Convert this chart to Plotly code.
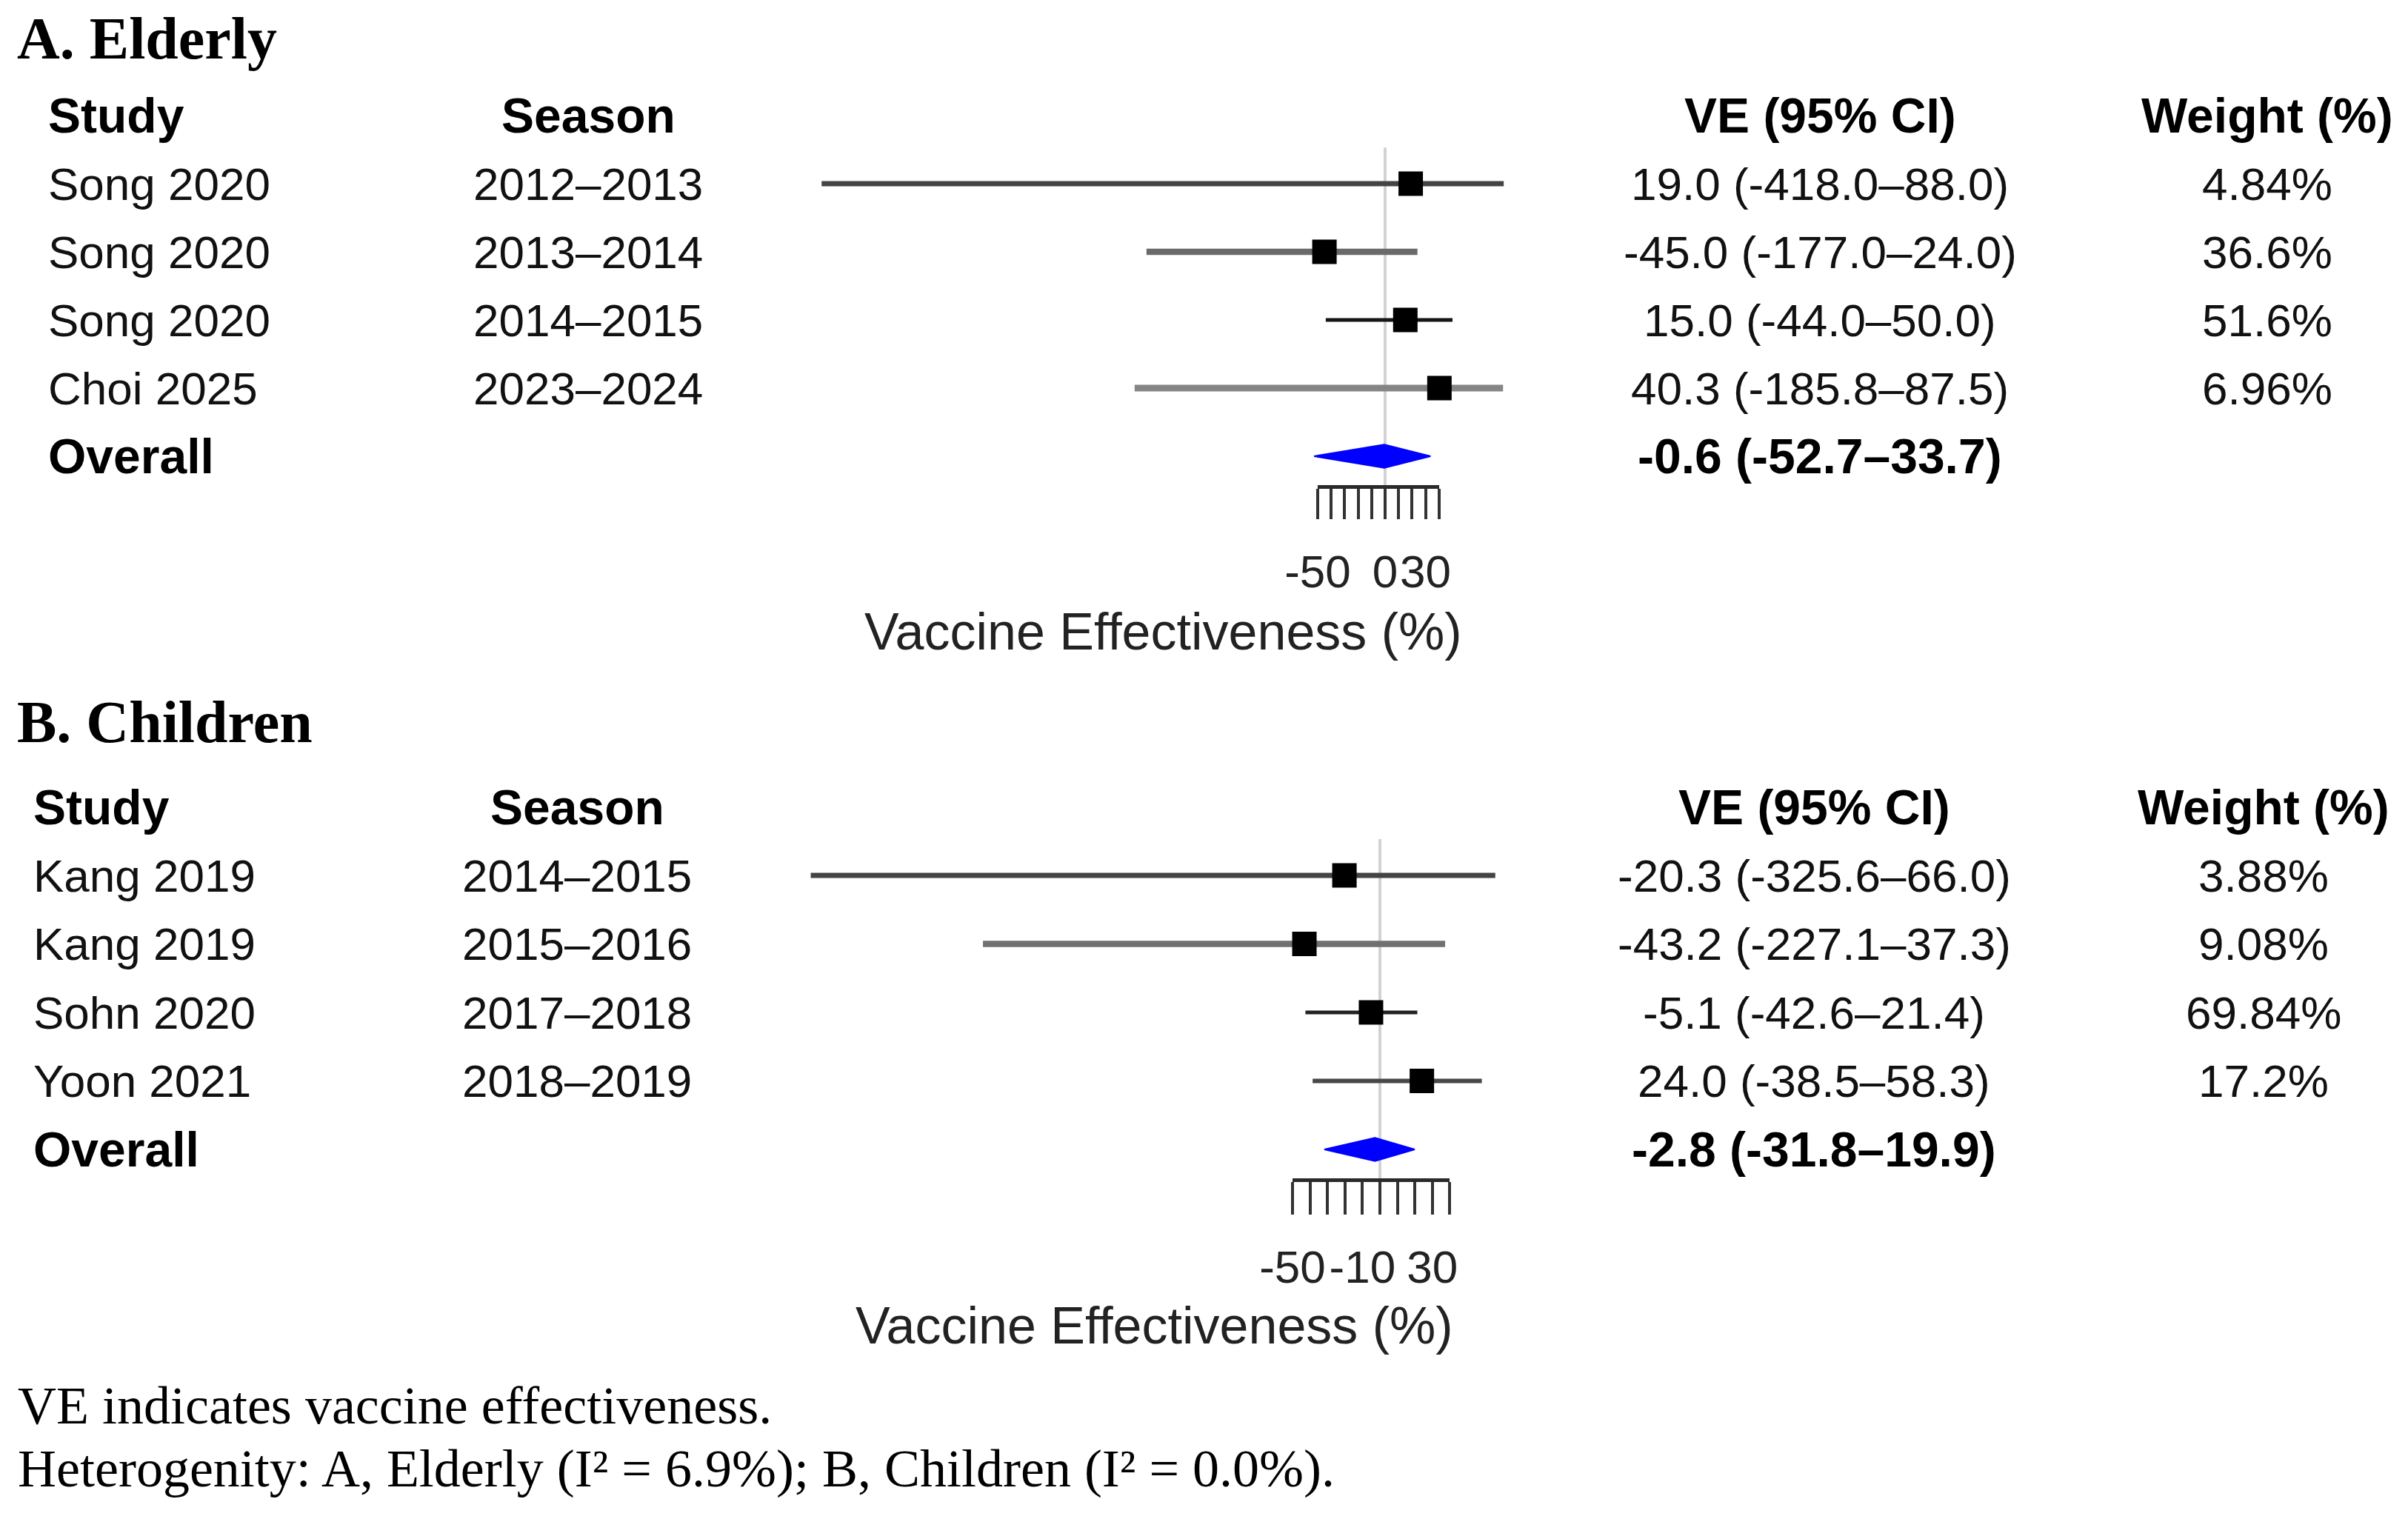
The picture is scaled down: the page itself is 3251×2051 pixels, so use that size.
import plotly.graph_objects as go

W, H = 3251, 2051

# A. Elderly
a_study = ["Song 2020", "Song 2020", "Song 2020", "Choi 2025"]
a_season = ["2012–2013", "2013–2014", "2014–2015", "2023–2024"]
a_ve = [19.0, -45.0, 15.0, 40.3]
a_lo = [-418.0, -177.0, -44.0, -185.8]
a_hi = [88.0, 24.0, 50.0, 87.5]
a_weight = [4.84, 36.6, 51.6, 6.96]
a_overall = [-0.6, -52.7, 33.7]

# B. Children
b_study = ["Kang 2019", "Kang 2019", "Sohn 2020", "Yoon 2021"]
b_season = ["2014–2015", "2015–2016", "2017–2018", "2018–2019"]
b_ve = [-20.3, -43.2, -5.1, 24.0]
b_lo = [-325.6, -227.1, -42.6, -38.5]
b_hi = [66.0, 37.3, 21.4, 58.3]
b_weight = [3.88, 9.08, 69.84, 17.2]
b_overall = [-2.8, -31.8, 19.9]

# VE axis ticks
ve_ticks = [-50, -40, -30, -20, -10, 0, 10, 20, 30, 40]
a_ticktext = ["-50", "", "", "", "", "0", "", "", "30", ""]
b_ticktext = ["-50", "", "", "", "-10", "", "", "", "30", ""]

footnotes = ["VE indicates vaccine effectiveness.",
             "Heterogenity: A, Elderly (I² = 6.9%); B, Children (I² = 0.0%)."]

SANS = "Liberation Sans, Arial, sans-serif"
SERIF = "Liberation Serif, Times New Roman, serif"
INK = "#111111"


def px_x(p):
    return p / W


def px_y(p):
    return 1 - p / H


panels = [
    dict(title="A. Elderly", study=a_study, season=a_season, ve=a_ve, lo=a_lo, hi=a_hi,
         weight=a_weight, overall=a_overall, ticktext=a_ticktext,
         top=0, bottom=1025, zero=1870, scale=1.82, row1=248, step=92,
         comb=657, ticklen=41, title_y=52, xt_x=1570, xt_y=853,
         study_x=63, season_x=794, ve_x=2457, weight_x=3061,
         ci_color=["#444444", "#6a6a6a", "#151515", "#858585"], ci_width=[7, 8.5, 5, 9]),
    dict(title="B. Children", study=b_study, season=b_season, ve=b_ve, lo=b_lo, hi=b_hi,
         weight=b_weight, overall=b_overall, ticktext=b_ticktext,
         top=1025, bottom=2051, zero=1863, scale=2.36, row1=1182, step=92.5,
         comb=1593, ticklen=44, title_y=975, xt_x=1558, xt_y=1790,
         study_x=43, season_x=779, ve_x=2449, weight_x=3056,
         ci_color=["#444444", "#707070", "#222222", "#484848"], ci_width=[7, 8.5, 5, 6]),
]

fig = go.Figure()
layout = {}
annotations = []

for i, p in enumerate(panels):
    n = i + 1
    xa = "x" if n == 1 else "x%d" % n
    ya = "y" if n == 1 else "y%d" % n
    xc = "x%d" % (3 + i)

    def row_at(px, p=p):
        return 1 + (px - p["row1"]) / p["step"]

    nrow = len(p["study"])
    rows = list(range(1, nrow + 1))
    orow = nrow + 1

    layout["xaxis" if n == 1 else "xaxis%d" % n] = dict(
        domain=[0, 1], range=[-p["zero"] / p["scale"], (W - p["zero"]) / p["scale"]],
        visible=False, anchor=ya, fixedrange=True, automargin=False)
    layout["yaxis" if n == 1 else "yaxis%d" % n] = dict(
        domain=[px_y(p["bottom"]), px_y(p["top"])],
        range=[row_at(p["bottom"]), row_at(p["top"])],
        visible=False, anchor=xa, fixedrange=True, automargin=False)
    layout["xaxis%d" % (3 + i)] = dict(
        domain=[px_x(p["zero"] + ve_ticks[0] * p["scale"]), px_x(p["zero"] + ve_ticks[-1] * p["scale"])],
        range=[ve_ticks[0], ve_ticks[-1]], anchor="free", position=px_y(p["comb"]),
        tickmode="array", tickvals=ve_ticks, ticktext=p["ticktext"], tickangle=0,
        ticks="outside", ticklen=p["ticklen"], tickwidth=4, tickcolor="#333333",
        showline=True, linewidth=5, linecolor="#2a2a2a",
        showgrid=False, zeroline=False, ticklabelstandoff=18, automargin=False,
        tickfont=dict(family=SANS, size=62, color="#222222"), fixedrange=True)

    # reference line at 0
    fig.add_trace(go.Scatter(x=[0, 0], y=[0.47, row_at(p["comb"])], mode="lines",
                             line=dict(color="#d2d2d2", width=4), xaxis=xa, yaxis=ya))
    # confidence intervals
    for k in range(nrow):
        fig.add_trace(go.Scatter(x=[p["lo"][k], p["hi"][k]], y=[rows[k], rows[k]], mode="lines",
                                 line=dict(color=p["ci_color"][k], width=p["ci_width"][k]),
                                 xaxis=xa, yaxis=ya))
    # point estimates
    fig.add_trace(go.Scatter(x=p["ve"], y=rows, mode="markers",
                             marker=dict(symbol="square", size=33, color="black", line=dict(width=0)),
                             xaxis=xa, yaxis=ya))
    # pooled estimate diamond
    est, lo, hi = p["overall"]
    h = 0.17
    fig.add_trace(go.Scatter(x=[lo, est, hi, est, lo], y=[orow, orow - h, orow, orow + h, orow],
                             mode="lines", fill="toself", fillcolor="#0000ff",
                             line=dict(color="#0000ff", width=2), xaxis=xa, yaxis=ya))
    # empty trace so the VE comb axis gets drawn
    fig.add_trace(go.Scatter(x=[None], y=[None], mode="markers", xaxis=xc, yaxis=ya))

    annotations.append(dict(text="<b>%s</b>" % p["title"], xref="paper", yref="paper",
                            x=px_x(21), y=px_y(p["title_y"]), xanchor="left", yanchor="middle",
                            font=dict(family=SERIF, size=80, color="black")))
    hdr = dict(family=SANS, size=66, color="black")
    body = dict(family=SANS, size=62, color=INK)
    annotations += [
        dict(text="<b>Study</b>", x=px_x(p["study_x"]), y=0, xanchor="left", font=hdr),
        dict(text="<b>Season</b>", x=px_x(p["season_x"]), y=0, xanchor="center", font=hdr),
        dict(text="<b>VE (95% CI)</b>", x=px_x(p["ve_x"]), y=0, xanchor="center", font=hdr),
        dict(text="<b>Weight (%)</b>", x=px_x(p["weight_x"]), y=0, xanchor="center", font=hdr),
    ]
    for k in range(nrow):
        ve_txt = "%.1f (%.1f–%.1f)" % (p["ve"][k], p["lo"][k], p["hi"][k])
        annotations += [
            dict(text=p["study"][k], x=px_x(p["study_x"]), y=rows[k], xanchor="left", font=body),
            dict(text=p["season"][k], x=px_x(p["season_x"]), y=rows[k], xanchor="center", font=body),
            dict(text=ve_txt, x=px_x(p["ve_x"]), y=rows[k], xanchor="center", font=body),
            dict(text="%s%%" % p["weight"][k], x=px_x(p["weight_x"]), y=rows[k], xanchor="center", font=body),
        ]
    annotations += [
        dict(text="<b>Overall</b>", x=px_x(p["study_x"]), y=orow, xanchor="left", font=hdr),
        dict(text="<b>%.1f (%.1f–%.1f)</b>" % (est, lo, hi), x=px_x(p["ve_x"]), y=orow,
             xanchor="center", font=hdr),
    ]
    for a in annotations:
        if "yref" not in a:
            a["xref"] = "paper"
            a["yref"] = ya
            a["yanchor"] = "middle"
    annotations.append(dict(text="Vaccine Effectiveness (%)", xref="paper", yref="paper",
                            x=px_x(p["xt_x"]), y=px_y(p["xt_y"]), xanchor="center", yanchor="middle",
                            font=dict(family=SANS, size=70, color="#222222")))

for j, (txt, yb) in enumerate(zip(footnotes, [1898, 1983])):
    annotations.append(dict(text=txt, xref="paper", yref="paper", x=px_x(22), y=px_y(yb),
                            xanchor="left", yanchor="middle",
                            font=dict(family=SERIF, size=72, color="black")))

for a in annotations:
    a["showarrow"] = False

fig.update_layout(
    template="none",
    width=W, height=H,
    margin=dict(l=0, r=0, t=0, b=0, pad=0, autoexpand=False),
    paper_bgcolor="white",
    plot_bgcolor="rgba(0,0,0,0)",
    showlegend=False,
    hovermode=False,
    font=dict(family=SANS, color=INK),
    annotations=annotations,
    **layout,
)

fig.write_html("out.html", config={"displayModeBar": False},
               post_script="document.body.style.margin = '0';")
